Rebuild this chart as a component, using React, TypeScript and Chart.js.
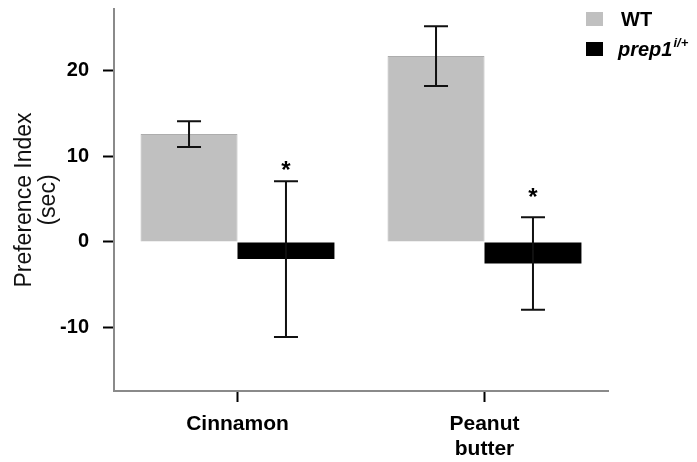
import React, { useEffect, useRef } from "react";
import { Chart, registerables } from "chart.js";

Chart.register(...registerables);

// ---- data ----
const categories: (string | string[])[] = ["Cinnamon", ["Peanut", "butter"]];
const seriesNames = ["WT", "prep1"];
const seriesSuperscripts = ["", "i/+"];
const seriesItalic = [false, true];
const wtValues = [12.6, 21.7];
const wtErrors = [1.5, 3.5];
const prepValues = [-2.0, -2.5];
const prepErrors = [9.1, 5.4];
const significanceMarks = ["*", "*"];
const significanceY = [8.7, 5.5];
const yTickValues = [-10, 0, 10, 20];
const yMin = -17.4;
const yMax = 27.2;
const yTitle = ["Preference Index", "(sec)"];

const FONT = "'Liberation Sans', Arial, Helvetica, sans-serif";

const errorBarPlugin = {
  id: "errorBars",
  afterDatasetsDraw(chart: any) {
    const ctx = chart.ctx;
    const yScale = chart.scales.y;
    chart.data.datasets.forEach((ds: any, di: number) => {
      const meta = chart.getDatasetMeta(di);
      meta.data.forEach((bar: any, i: number) => {
        const v = ds.data[i];
        const e = ds.errors[i];
        const x = bar.x;
        const yTop = yScale.getPixelForValue(v + e);
        const yBot = yScale.getPixelForValue(v - e);
        ctx.save();
        ctx.strokeStyle = "#111";
        ctx.lineWidth = 2;
        ctx.beginPath();
        ctx.moveTo(x, yTop);
        ctx.lineTo(x, yBot);
        ctx.moveTo(x - 12, yTop);
        ctx.lineTo(x + 12, yTop);
        ctx.moveTo(x - 12, yBot);
        ctx.lineTo(x + 12, yBot);
        ctx.stroke();
        ctx.restore();
      });
    });
    // significance marks above second series
    const meta1 = chart.getDatasetMeta(1);
    ctx.save();
    ctx.fillStyle = "#000";
    ctx.font = `bold 24px ${FONT}`;
    ctx.textAlign = "center";
    ctx.textBaseline = "middle";
    meta1.data.forEach((bar: any, i: number) => {
      const mark = significanceMarks[i];
      if (!mark) return;
      ctx.fillText(mark, bar.x, yScale.getPixelForValue(significanceY[i]) + 4);
    });
    ctx.restore();
  },
};

const legendPlugin = {
  id: "customLegend",
  afterDraw(chart: any) {
    const ctx = chart.ctx;
    ctx.save();
    chart.data.datasets.forEach((ds: any, i: number) => {
      const cy = 19 + i * 30;
      ctx.fillStyle = ds.backgroundColor;
      ctx.fillRect(586, cy - 7, 17, 14);
      const italic = seriesItalic[i] ? "italic " : "";
      ctx.font = `${italic}bold 20px ${FONT}`;
      ctx.fillStyle = "#000";
      ctx.textAlign = "left";
      ctx.textBaseline = "middle";
      const tx = i === 0 ? 621 : 618;
      ctx.fillText(ds.label, tx, cy + 1);
      const w = ctx.measureText(ds.label).width;
      const sup = seriesSuperscripts[i];
      if (sup) {
        ctx.font = `${italic}bold 13px ${FONT}`;
        ctx.fillText(sup, tx + w + 1, cy - 6);
      }
    });
    ctx.restore();
  },
};

export default function App() {
  const canvasRef = useRef<HTMLCanvasElement>(null);

  useEffect(() => {
    document.body.style.margin = "0";
    const canvas = canvasRef.current;
    if (!canvas) return;
    const chart = new Chart(canvas, {
      type: "bar",
      data: {
        labels: categories as any,
        datasets: [
          {
            label: seriesNames[0],
            data: wtValues,
            errors: wtErrors,
            backgroundColor: "#c0c0c0",
            borderColor: "#adadad",
            borderWidth: 1,
            barPercentage: 1.0,
            categoryPercentage: 0.785,
          } as any,
          {
            label: seriesNames[1],
            data: prepValues,
            errors: prepErrors,
            backgroundColor: "#000000",
            borderColor: "#000000",
            borderWidth: 0,
            barPercentage: 1.0,
            categoryPercentage: 0.785,
          } as any,
        ],
      },
      options: {
        responsive: false,
        animation: false,
        layout: { padding: { top: 9, right: 89, left: 0, bottom: 0 } },
        plugins: {
          legend: { display: false },
          tooltip: { enabled: false },
          title: { display: false },
        },
        scales: {
          x: {
            type: "category",
            offset: true,
            grid: {
              offset: false,
              drawOnChartArea: false,
              drawTicks: true,
              tickLength: 11,
              tickColor: "#000",
              tickWidth: 2,
            },
            border: { color: "#8a8a8a", width: 2 },
            ticks: {
              color: "#000",
              padding: 10,
              font: { family: FONT, size: 21, weight: "bold", lineHeight: "25px" } as any,
              maxRotation: 0,
              minRotation: 0,
            },
            afterFit(scale: any) {
              scale.height = 71;
              scale.paddingLeft = 0;
              scale.paddingRight = 0;
            },
          },
          y: {
            type: "linear",
            min: yMin,
            max: yMax,
            afterBuildTicks(scale: any) {
              scale.ticks = yTickValues.map((v) => ({ value: v }));
            },
            grid: {
              drawOnChartArea: false,
              drawTicks: true,
              tickLength: 11,
              tickColor: "#000",
              tickWidth: 2,
            },
            border: { color: "#8a8a8a", width: 2 },
            ticks: {
              color: "#000",
              padding: 14,
              font: { family: FONT, size: 20, weight: "bold" } as any,
            },
            title: {
              display: true,
              text: yTitle,
              color: "#111",
              font: { family: FONT, size: 23, weight: "normal", lineHeight: "24px" } as any,
              padding: { top: 13, bottom: 0 },
            },
            afterFit(scale: any) {
              scale.width = 114;
              scale.paddingTop = 0;
              scale.paddingBottom = 0;
            },
          },
        },
      } as any,
      plugins: [errorBarPlugin, legendPlugin],
    });
    return () => chart.destroy();
  }, []);

  return (
    <div style={{ width: 697, height: 462, background: "#fff" }}>
      <canvas ref={canvasRef} width={697} height={462} />
    </div>
  );
}
